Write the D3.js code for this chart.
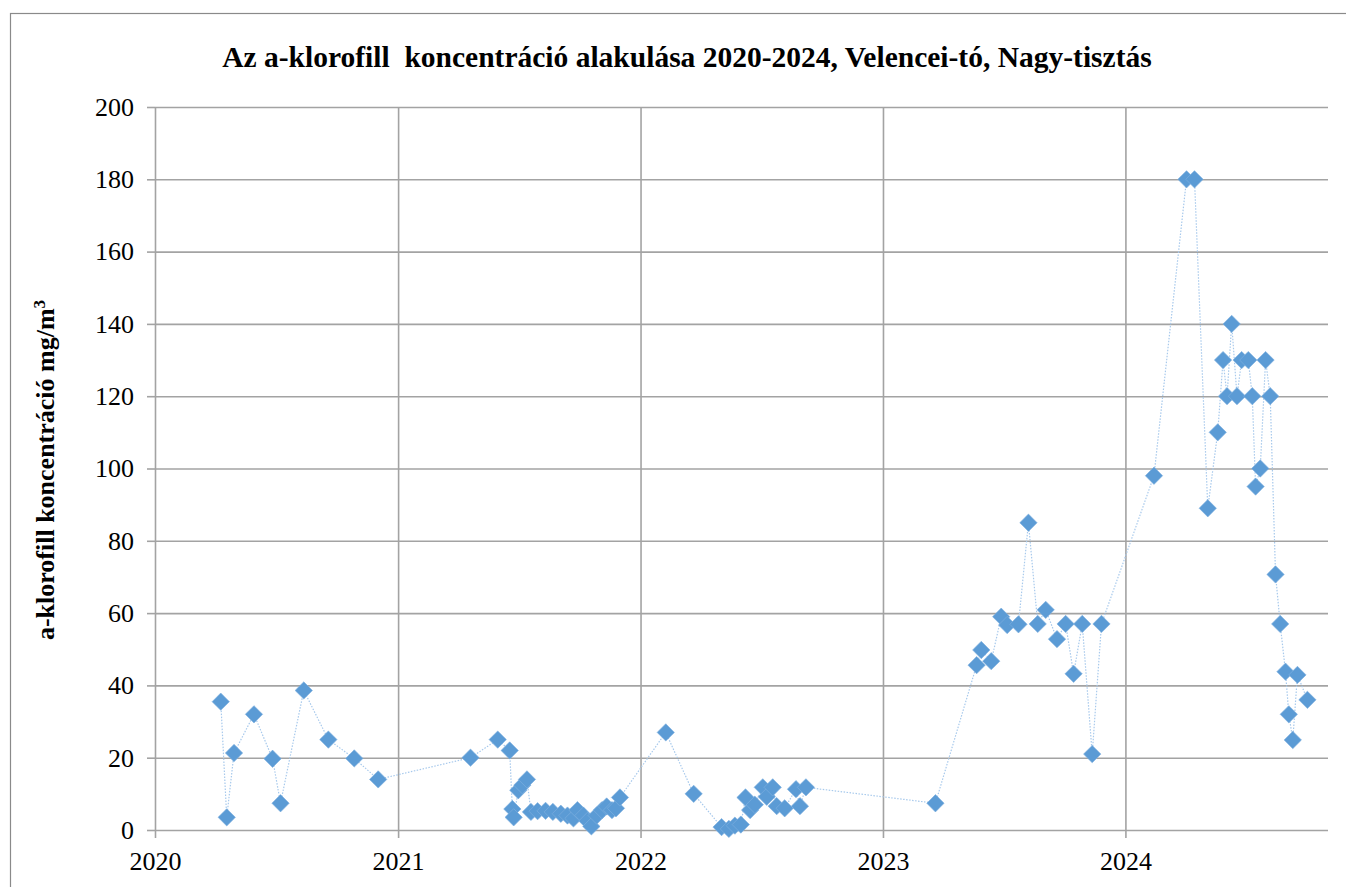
<!DOCTYPE html>
<html>
<head>
<meta charset="utf-8">
<script src="https://cdn.jsdelivr.net/npm/d3@7.9.0/dist/d3.min.js"></script>
<style>
    body { margin: 0; background: #fff; }
    svg { display: block; font-family: "Liberation Serif", "Times New Roman", serif; }
</style>
</head>
<body>
<div id="chart"></div>
<script>
// Sampling dates and a-chlorophyll values (mg/m3)
const sampleDates = [
    '2020-04-09', '2020-04-18', '2020-04-29', '2020-05-29', '2020-06-26', '2020-07-08',
    '2020-08-12', '2020-09-18', '2020-10-27', '2020-12-02',
    '2021-04-20', '2021-05-31', '2021-06-18', '2021-06-22', '2021-06-24', '2021-07-01',
    '2021-07-07', '2021-07-14', '2021-07-20', '2021-07-30', '2021-08-11', '2021-08-22',
    '2021-09-03', '2021-09-13', '2021-09-22', '2021-09-28', '2021-10-07', '2021-10-13',
    '2021-10-19', '2021-10-27', '2021-11-04', '2021-11-11', '2021-11-19', '2021-11-25',
    '2021-12-01',
    '2022-02-08', '2022-03-22', '2022-05-03', '2022-05-14', '2022-05-23', '2022-06-01',
    '2022-06-08', '2022-06-15', '2022-06-22', '2022-07-04', '2022-07-10', '2022-07-19',
    '2022-07-25', '2022-08-06', '2022-08-23', '2022-08-29', '2022-09-07',
    '2023-03-21', '2023-05-22', '2023-05-29', '2023-06-13', '2023-06-28', '2023-07-07',
    '2023-07-24', '2023-08-08', '2023-08-22', '2023-09-03', '2023-09-20', '2023-10-03',
    '2023-10-15', '2023-10-28', '2023-11-12', '2023-11-26',
    '2024-02-13', '2024-04-02', '2024-04-14', '2024-05-04', '2024-05-19', '2024-05-27',
    '2024-06-02', '2024-06-09', '2024-06-17', '2024-06-24', '2024-07-04', '2024-07-10',
    '2024-07-15', '2024-07-22', '2024-07-30', '2024-08-06', '2024-08-14', '2024-08-21',
    '2024-08-29', '2024-09-03', '2024-09-09', '2024-09-16', '2024-10-01'
];
const sampleValues = [
    35.5, 3.5, 21.3, 32, 19.7, 7.4,
    38.6, 25, 19.8, 14,
    20, 25, 22, 5.8, 3.5, 11,
    12.4, 14, 5, 5.2, 5.3, 5,
    4.5, 4, 3.2, 5.5, 4, 2.5,
    1, 4, 5.5, 6.5, 5.5, 6,
    9,
    27, 10, 0.8, 0.3, 1.2, 1.5,
    9, 5.5, 7, 11.8, 9.2, 11.8,
    6.6, 6, 11.3, 6.6, 11.8,
    7.4, 45.6, 49.8, 46.7, 59, 56.7,
    56.9, 85, 57, 60.9, 52.8, 57,
    43.2, 57, 21, 57,
    98, 180, 180, 89, 110, 130,
    120, 140, 120, 130, 130, 120,
    95, 100, 130, 120, 70.7, 57,
    43.8, 32, 24.9, 42.9, 36
];
const yTicks = [0, 20, 40, 60, 80, 100, 120, 140, 160, 180, 200];
const xTickYears = ['2020', '2021', '2022', '2023', '2024'];
const xDomain = ['2020-01-01', '2024-11-01'];

const chartTitle = 'Az a-klorofill  koncentráció alakulása 2020-2024, Velencei-tó, Nagy-tisztás';

const width = 1346;
const height = 887;
const plot = { left: 155, right: 1328, top: 107, bottom: 830 };

const parseDate = d3.timeParse('%Y-%m-%d');
const data = sampleDates.map((d, i) => ({ date: parseDate(d), value: sampleValues[i] }));

const svg = d3.select('#chart')
    .append('svg')
    .attr('width', width)
    .attr('height', height);

// Outer chart frame (cut off at the right and bottom like the picture)
svg.append('rect')
    .attr('x', 10.5)
    .attr('y', 13.5)
    .attr('width', 1400)
    .attr('height', 1000)
    .attr('fill', 'none')
    .attr('stroke', '#8a8a8a')
    .attr('stroke-width', 1.2);

const xScale = d3.scaleTime()
    .domain(xDomain.map(parseDate))
    .range([plot.left, plot.right]);

const yScale = d3.scaleLinear()
    .domain([0, 200])
    .range([plot.bottom, plot.top]);

const xTickDates = xTickYears.map((y) => parseDate(y + '-01-01'));

// Horizontal gridlines + left ticks
svg.append('g')
    .attr('class', 'y-grid')
    .attr('transform', `translate(${plot.left},0)`)
    .call(d3.axisLeft(yScale).tickValues(yTicks).tickSize(-(plot.right - plot.left)).tickFormat(''))
    .call((g) => g.select('.domain').remove())
    .call((g) => g.selectAll('line').attr('stroke', '#a3a3a3').attr('stroke-width', 1.6));

svg.append('g')
    .attr('class', 'y-ticks')
    .attr('transform', `translate(${plot.left},0)`)
    .call(d3.axisLeft(yScale).tickValues(yTicks).tickSize(8).tickPadding(13))
    .call((g) => g.select('.domain').remove())
    .call((g) => g.selectAll('line').attr('stroke', '#a3a3a3').attr('stroke-width', 1.6))
    .call((g) => g.selectAll('text')
        .attr('fill', '#000')
        .style('font-family', '"Liberation Serif", serif')
        .style('font-size', '26px'));

// Vertical gridlines at each year, running down past the axis as ticks
svg.append('g')
    .attr('class', 'x-grid')
    .attr('transform', `translate(0,${plot.bottom})`)
    .call(d3.axisBottom(xScale).tickValues(xTickDates).tickSize(-(plot.bottom - plot.top)).tickFormat(''))
    .call((g) => g.select('.domain').remove())
    .call((g) => g.selectAll('line').attr('stroke', '#a3a3a3').attr('stroke-width', 1.6));

svg.append('g')
    .attr('class', 'x-ticks')
    .attr('transform', `translate(0,${plot.bottom})`)
    .call(d3.axisBottom(xScale).tickValues(xTickDates).tickSize(8).tickPadding(14)
        .tickFormat(d3.timeFormat('%Y')))
    .call((g) => g.select('.domain').remove())
    .call((g) => g.selectAll('line').attr('stroke', '#a3a3a3').attr('stroke-width', 1.6))
    .call((g) => g.selectAll('text')
        .attr('fill', '#000')
        .style('font-family', '"Liberation Serif", serif')
        .style('font-size', '26px'));

// Connecting dotted line
const line = d3.line()
    .x((d) => xScale(d.date))
    .y((d) => yScale(d.value));

svg.append('path')
    .datum(data)
    .attr('d', line)
    .attr('fill', 'none')
    .attr('stroke', '#a7c9ec')
    .attr('stroke-width', 1.2)
    .attr('stroke-dasharray', '1.5 1.5');

// Diamond markers
const diamond = d3.symbol().type(d3.symbolSquare).size(150);

svg.append('g')
    .attr('class', 'dots')
    .selectAll('path')
    .data(data)
    .join('path')
    .attr('d', diamond)
    .attr('transform', (d) => `translate(${xScale(d.date)},${yScale(d.value)}) rotate(45)`)
    .attr('fill', '#5b9bd5')
    .attr('stroke', '#7fb0df')
    .attr('stroke-width', 0.6);

// Title
svg.append('text')
    .attr('x', 687)
    .attr('y', 67)
    .attr('text-anchor', 'middle')
    .style('font-family', '"Liberation Serif", serif')
    .style('font-weight', 'bold')
    .style('font-size', '29.5px')
    .style('white-space', 'pre')
    .text(chartTitle);

// Y axis title
const yTitle = svg.append('text')
    .attr('transform', 'translate(54,470) rotate(-90)')
    .attr('text-anchor', 'middle')
    .style('font-family', '"Liberation Serif", serif')
    .style('font-weight', 'bold')
    .style('font-size', '26px');
yTitle.append('tspan').text('a-klorofill koncentráció mg/m');
yTitle.append('tspan').attr('dy', -9).style('font-size', '17px').text('3');
</script>
</body>
</html>
